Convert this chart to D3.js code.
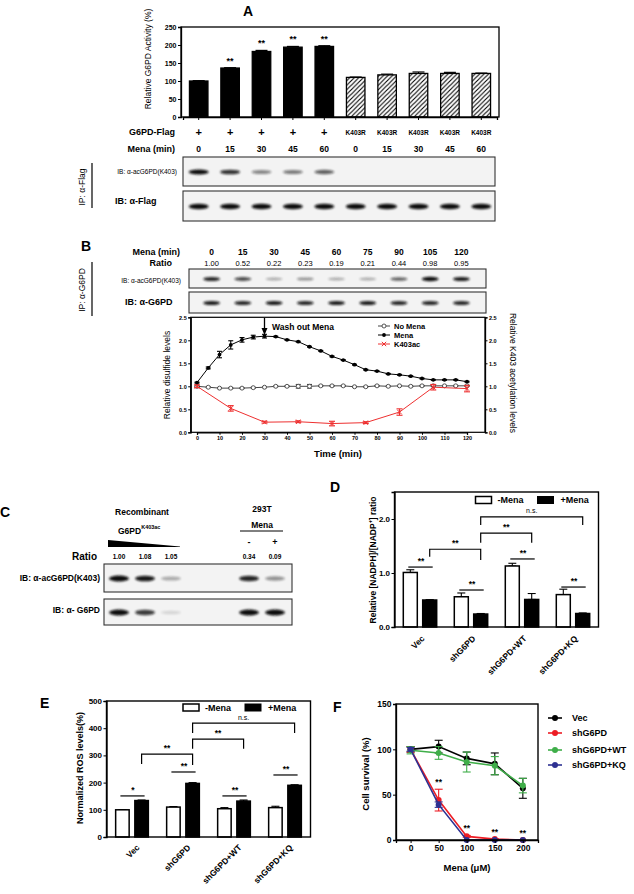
<!DOCTYPE html>
<html><head><meta charset="utf-8">
<script src="https://cdn.jsdelivr.net/npm/d3@7"></script>
<style>body{margin:0;background:#fff}svg{display:block}text{font-family:"Liberation Sans",Arial,sans-serif}</style>
</head><body><svg id="c" width="634" height="894"></svg>
<script>
// ---------- DATA ----------
// Panel A
const aFlag = ["+","+","+","+","+","K403R","K403R","K403R","K403R","K403R"];
const aMena = ["0","15","30","45","60","0","15","30","45","60"];
const aActivity = [100,136,182,194,196,110,117,121,121,121];
const aActivityErr = [1,1,3,2,2,1,2,4,3,1];
const aSig = ["","**","**","**","**","","","","",""];
const aYTicks = [0,50,100,150,200,250];
const aAcBand = [1.0,0.8,0.45,0.5,0.6,0,0,0,0,0];
const aFlagBand = [1,1,1,1,1,1,1,1,1,1];
// Panel B
const bMena = ["0","15","30","45","60","75","90","105","120"];
const bRatio = ["1.00","0.52","0.22","0.23","0.19","0.21","0.44","0.98","0.95"];
const bAcBand = [0.85,0.7,0.3,0.4,0.3,0.3,0.6,1.0,0.9];
const bG6pdBand = [0.9,0.85,0.9,0.85,0.9,0.9,0.85,0.85,0.85];
const bTime = [0,5,10,15,20,25,30,35,40,45,50,55,60,65,70,75,80,85,90,95,100,105,110,115,120];
const bMenaLvl = [1.08,1.40,1.69,1.90,2.01,2.07,2.09,2.08,2.01,1.97,1.86,1.77,1.65,1.57,1.47,1.36,1.33,1.27,1.25,1.22,1.17,1.14,1.14,1.14,1.10];
const bMenaErr = [0.01,0.02,0.07,0.09,0.05,0.04,0.04,0.01,0.01,0.01,0.01,0.01,0.01,0.01,0.01,0.01,0.01,0.01,0.01,0.01,0.01,0.01,0.01,0.01,0.01];
const bNoMena = [1.00,0.98,0.96,0.96,0.96,0.97,0.98,1.00,1.00,1.00,1.00,1.01,1.01,1.01,0.99,0.99,1.01,1.00,1.01,1.00,1.01,1.01,1.01,1.01,1.01];
const bNoMenaErr = [0.01,0.01,0.01,0.01,0.01,0.01,0.01,0.01,0.01,0.04,0.04,0.01,0.01,0.01,0.01,0.01,0.01,0.01,0.01,0.01,0.01,0.01,0.01,0.01,0.01];
const bAcTime = [0,15,30,45,60,75,90,105,120];
const bAcLvl = [1.00,0.52,0.22,0.23,0.19,0.21,0.44,0.98,0.95];
const bAcErr = [0.03,0.06,0.02,0.02,0.05,0.02,0.07,0.06,0.07];
const bXTicks = [0,10,20,30,40,50,60,70,80,90,100,110,120];
const bYTicks = [0,0.5,1,1.5,2,2.5];
const bLegend = ["No Mena","Mena","K403ac"];
// Panel C
const cRatio = ["1.00","1.08","1.05","","","0.34","0.09"];
const cMena = ["","","","","","-","+"];
const cAcBand = [1.0,0.9,0.3,0,0,0.85,0.4];
const cG6pdBand = [0.95,0.75,0.12,0,0,0.95,0.95];
// Panel D
const groups = ["Vec","shG6PD","shG6PD+WT","shG6PD+KQ"];
const dMinus = [1.01,0.56,1.13,0.60];
const dMinusErr = [0.05,0.07,0.05,0.10];
const dPlus = [0.50,0.24,0.51,0.25];
const dPlusErr = [0.005,0.01,0.11,0.01];
const dYTicks = [0,1,2];
const dPairLvl = [1.11,0.685,1.26,0.74];
const dBrackets = [
  {from:0,to:1,top:1.44,dropL:1.30,dropR:1.24,label:"**"},
  {from:1,to:2,top:1.74,dropL:1.56,dropR:1.56,label:"**"},
  {from:1,to:3,top:2.04,dropL:1.89,dropR:1.89,label:"n.s."}];
// Panel E
const eMinus = [100,110,104,108];
const eMinusErr = [1,2,4,5];
const ePlus = [134,197,132,190];
const ePlusErr = [2,3,4,2];
const eYTicks = [0,100,200,300,400,500];
const ePairLvl = [151,239,151,228];
const ePairSig = ["*","**","**","**"];
const eBrackets = [
  {from:0,to:1,top:305,dropL:268,dropR:265,label:"**"},
  {from:1,to:2,top:360,dropL:324,dropR:324,label:"**"},
  {from:1,to:3,top:419,dropL:382,dropR:382,label:"n.s."}];
// Panel F
const fDose = [0,50,100,150,200];
const fSeries = ["Vec","shG6PD","shG6PD+WT","shG6PD+KQ"];
const fVec = [100,103,90,84,57], fVecErr = [3,7,7,12,11];
const fSh = [100,44,4,1,0], fShErr = [3,12,1,0.5,0];
const fWT = [99,96,86,82,60], fWTErr = [4,7,11,10,8];
const fKQ = [100,39,0,0,0], fKQErr = [2,3,0,0,0];
const fColors = ["#000000","#ed1c24","#3fae49","#2e3192"];
const fSig = ["","**","**","**","**"];
const fXTicks = [0,50,100,150,200];
const fYTicks = [0,50,100,150];

// ---------- HELPERS ----------
const svg = d3.select("#c");
const FONT = '"Liberation Sans", Arial, sans-serif';
const defs = svg.append("defs");
defs.append("filter").attr("id","blur").attr("x","-50%").attr("y","-100%").attr("width","200%").attr("height","300%")
  .append("feGaussianBlur").attr("stdDeviation",0.9);
const pat = defs.append("pattern").attr("id","hatch").attr("patternUnits","userSpaceOnUse").attr("width",4.5).attr("height",4.5);
pat.append("rect").attr("width",4.5).attr("height",4.5).attr("fill","#fff");
pat.append("path").attr("d","M-1,1 l2,-2 M0,4.5 l4.5,-4.5 M3.5,5.5 l2,-2").attr("stroke","#000").attr("stroke-width",1.1);

function txt(x, y, s, o = {}) {
  const t = svg.append("text").attr("x", x).attr("y", y).text(s)
    .attr("font-size", o.size || 8).attr("font-weight", o.bold === false ? "normal" : "bold")
    .attr("text-anchor", o.anchor || "start").attr("dominant-baseline", "central")
    .attr("fill", o.fill || "#000");
  if (o.rotate) t.attr("transform", `rotate(${o.rotate},${x},${y})`);
  return t;
}
function styleAxis(g, size) {
  g.attr("font-size", size).attr("font-family", FONT).attr("font-weight", "bold");
  g.selectAll("text").attr("fill", "#000");
  g.selectAll("line").attr("stroke", "#000").attr("stroke-width", 1);
  g.select(".domain").attr("stroke", "#000").attr("stroke-width", 1.3);
}
function frame(x0, y0, x1, y1, w) {
  svg.append("rect").attr("x", x0).attr("y", y0).attr("width", x1 - x0).attr("height", y1 - y0)
    .attr("fill", "none").attr("stroke", "#000").attr("stroke-width", w || 1.3);
}
function blot(x0, x1, y0, y1, xs, ints, rx, ry) {
  svg.append("rect").attr("x", x0).attr("y", y0).attr("width", x1 - x0).attr("height", y1 - y0)
    .attr("fill", "#f3f3f3").attr("stroke", "#333").attr("stroke-width", 1.1);
  svg.append("g").selectAll("ellipse").data(ints).join("ellipse")
    .attr("cx", (d, i) => xs(i) + xs.bandwidth() / 2).attr("cy", (y0 + y1) / 2 + 0.5)
    .attr("rx", rx).attr("ry", d => ry * (0.55 + 0.45 * d))
    .attr("fill", "#111").attr("opacity", d => Math.min(1, d * 1.05)).attr("filter", "url(#blur)");
}
function errBar(g, cx, y, yErr, half, color) {
  g.append("line").attr("x1", cx).attr("x2", cx).attr("y1", y(yErr[0])).attr("y2", y(yErr[1])).attr("stroke", color).attr("stroke-width", 1.1);
  g.append("line").attr("x1", cx - half).attr("x2", cx + half).attr("y1", y(yErr[1])).attr("y2", y(yErr[1])).attr("stroke", color).attr("stroke-width", 1.1);
  g.append("line").attr("x1", cx - half).attr("x2", cx + half).attr("y1", y(yErr[0])).attr("y2", y(yErr[0])).attr("stroke", color).attr("stroke-width", 1.1);
}

// ---------- PANEL LETTERS ----------
txt(243, 11, "A", {size: 14});
txt(81, 246, "B", {size: 14});
txt(0, 512, "C", {size: 14});
txt(330, 487, "D", {size: 14});
txt(40, 703, "E", {size: 14});
txt(333, 707, "F", {size: 14});

// ---------- PANEL A ----------
{
  const x = d3.scaleBand().domain(d3.range(10)).range([183, 497]);
  const y = d3.scaleLinear().domain([0, 250]).range([117, 27]);
  const g = svg.append("g");
  const bw = 18.5;
  g.selectAll("rect.bar").data(aActivity).join("rect").attr("class", "bar")
    .attr("x", (d, i) => x(i) + x.bandwidth() / 2 - bw / 2).attr("width", bw)
    .attr("y", d => y(d)).attr("height", d => y(0) - y(d))
    .attr("fill", (d, i) => i < 5 ? "#000" : "url(#hatch)").attr("stroke", "#000").attr("stroke-width", 1.3);
  aActivity.forEach((d, i) => {
    const cx = x(i) + x.bandwidth() / 2;
    g.append("line").attr("x1", cx).attr("x2", cx).attr("y1", y(d)).attr("y2", y(d + aActivityErr[i])).attr("stroke", "#000");
    g.append("line").attr("x1", cx - 6).attr("x2", cx + 6).attr("y1", y(d + aActivityErr[i])).attr("y2", y(d + aActivityErr[i])).attr("stroke", "#000").attr("stroke-width", 1.2);
    if (aSig[i]) txt(cx, y(d + aActivityErr[i]) - 7, aSig[i], {size: 9, anchor: "middle"});
    txt(cx, 132, aFlag[i], aFlag[i] === "+" ? {size: 11, anchor: "middle"} : {size: 6.5, anchor: "middle"});
    txt(cx, 149, aMena[i], {size: 8.5, anchor: "middle"});
  });
  const ya = g.append("g").attr("transform", "translate(181,0)").call(d3.axisLeft(y).tickValues(aYTicks).tickSize(3).tickPadding(1.5));
  styleAxis(ya, 7);
  const xa = g.append("g").attr("transform", "translate(0,117)").call(d3.axisBottom(x).tickSize(3).tickFormat(""));
  styleAxis(xa, 7);
  xa.selectAll(".tick").attr("transform", (d) => `translate(${x(d) + x.bandwidth() / 2},0)`);
  frame(181, 27, 499, 117);
  txt(148, 59, "Relative G6PD Activity (%)", {size: 8.5, bold: false, anchor: "middle", rotate: -90});
  txt(175, 132, "G6PD-Flag", {size: 9, anchor: "end"});
  txt(175, 149, "Mena (min)", {size: 9, anchor: "end"});
  blot(183, 495, 157, 186, x, aAcBand, 10, 2.6);
  blot(183, 495, 191, 221, x, aFlagBand, 10, 2.8);
  txt(177, 171, "IB: α-acG6PD(K403)", {size: 6.5, bold: false, anchor: "end"});
  txt(115, 201, "IB: α-Flag", {size: 9});
  txt(82, 187, "IP: α-Flag", {size: 8.5, bold: false, anchor: "middle", rotate: -90});
  svg.append("line").attr("x1", 92).attr("x2", 92).attr("y1", 163).attr("y2", 208).attr("stroke", "#000").attr("stroke-width", 1.2);
}

// ---------- PANEL B ----------
{
  const lanes = d3.scaleBand().domain(d3.range(9)).range([196, 477]);
  bMena.forEach((m, i) => {
    const cx = lanes(i) + lanes.bandwidth() / 2;
    txt(cx, 252, m, {size: 8.5, anchor: "middle"});
    txt(cx, 263, bRatio[i], {size: 7.5, bold: false, anchor: "middle"});
  });
  txt(180, 252, "Mena (min)", {size: 9, anchor: "end"});
  txt(172, 263, "Ratio", {size: 9, anchor: "end"});
  blot(189, 486, 269, 288, lanes, bAcBand, 8.5, 2.2);
  blot(189, 486, 292, 313, lanes, bG6pdBand, 8.5, 2.2);
  txt(181, 280, "IB: α-acG6PD(K403)", {size: 6.5, bold: false, anchor: "end"});
  txt(125, 302, "IB: α-G6PD", {size: 9});
  txt(82, 290, "IP: α-G6PD", {size: 8.5, bold: false, anchor: "middle", rotate: -90});
  svg.append("line").attr("x1", 92).attr("x2", 92).attr("y1", 262).attr("y2", 316).attr("stroke", "#000").attr("stroke-width", 1.2);

  const x = d3.scaleLinear().domain([0, 120]).range([197, 467]);
  const y = d3.scaleLinear().domain([0, 2.5]).range([432.3, 317.3]);
  const g = svg.append("g");
  const line = d3.line().x(d => x(d[0])).y(d => y(d[1]));
  // No Mena
  const nm = bTime.map((t, i) => [t, bNoMena[i]]);
  g.append("path").attr("d", line(nm)).attr("fill", "none").attr("stroke", "#444").attr("stroke-width", 1);
  nm.forEach((d, i) => errBar(g, x(d[0]), y, [d[1] - bNoMenaErr[i], d[1] + bNoMenaErr[i]], 2.5, "#444"));
  g.selectAll("circle.nm").data(nm).join("circle").attr("class", "nm").attr("cx", d => x(d[0])).attr("cy", d => y(d[1])).attr("r", 2)
    .attr("fill", "#fff").attr("stroke", "#444").attr("stroke-width", 0.9);
  // Mena
  const me = bTime.map((t, i) => [t, bMenaLvl[i]]);
  g.append("path").attr("d", line(me)).attr("fill", "none").attr("stroke", "#000").attr("stroke-width", 1);
  me.forEach((d, i) => errBar(g, x(d[0]), y, [d[1] - bMenaErr[i], d[1] + bMenaErr[i]], 2.5, "#000"));
  g.selectAll("circle.me").data(me).join("circle").attr("class", "me").attr("cx", d => x(d[0])).attr("cy", d => y(d[1])).attr("r", 1.9).attr("fill", "#000");
  // K403ac
  const red = "#ee3030";
  const ac = bAcTime.map((t, i) => [t, bAcLvl[i]]);
  g.append("path").attr("d", line(ac)).attr("fill", "none").attr("stroke", red).attr("stroke-width", 1);
  ac.forEach((d, i) => errBar(g, x(d[0]), y, [d[1] - bAcErr[i], d[1] + bAcErr[i]], 3, red));
  const cross = d3.symbol().type(d3.symbolX).size(14);
  g.selectAll("path.ac").data(ac).join("path").attr("class", "ac").attr("d", cross)
    .attr("transform", d => `translate(${x(d[0])},${y(d[1])})`).attr("fill", "none").attr("stroke", red).attr("stroke-width", 1);
  // axes
  const yl = g.append("g").attr("transform", "translate(190.7,0)").call(d3.axisLeft(y).tickValues(bYTicks).tickFormat(d3.format(".1f")).tickSize(2.5).tickPadding(1.5));
  styleAxis(yl, 5.5);
  const yr = g.append("g").attr("transform", "translate(485,0)").call(d3.axisRight(y).tickValues(bYTicks).tickFormat(d3.format(".1f")).tickSize(2.5).tickPadding(1.5));
  styleAxis(yr, 5.5);
  const xb = g.append("g").attr("transform", "translate(0,432.3)").call(d3.axisBottom(x).tickValues(bXTicks).tickSize(2.5).tickPadding(1.5));
  styleAxis(xb, 5.5);
  frame(190.7, 317.3, 485, 432.3, 1.2);
  txt(167, 375, "Relative disulfide levels", {size: 8.5, bold: false, anchor: "middle", rotate: -90});
  txt(513, 373, "Relative K403 acetylation levels", {size: 8.5, bold: false, anchor: "middle", rotate: 90});
  txt(338, 453, "Time (min)", {size: 9.5, anchor: "middle"});
  // arrow
  const ax = x(30);
  g.append("line").attr("x1", ax).attr("x2", ax).attr("y1", 318).attr("y2", 330).attr("stroke", "#000").attr("stroke-width", 1.3);
  g.append("path").attr("d", `M${ax - 3},${328} L${ax + 3},${328} L${ax},${335} Z`).attr("fill", "#000");
  txt(272, 327, "Wash out Mena", {size: 8.5});
  // legend
  const ly = [326, 335, 344];
  bLegend.forEach((s, i) => {
    const c = i === 2 ? red : (i === 0 ? "#444" : "#000");
    g.append("line").attr("x1", 378).attr("x2", 390).attr("y1", ly[i]).attr("y2", ly[i]).attr("stroke", c).attr("stroke-width", 1);
    if (i === 0) g.append("circle").attr("cx", 384).attr("cy", ly[i]).attr("r", 2).attr("fill", "#fff").attr("stroke", c).attr("stroke-width", 0.9);
    if (i === 1) g.append("circle").attr("cx", 384).attr("cy", ly[i]).attr("r", 1.9).attr("fill", c);
    if (i === 2) g.append("path").attr("d", cross).attr("transform", `translate(384,${ly[i]})`).attr("fill", "none").attr("stroke", c);
    txt(394, ly[i], s, {size: 7.5});
  });
}

// ---------- PANEL C ----------
{
  const lanes = d3.scaleBand().domain(d3.range(7)).range([106, 288]);
  const cx = i => lanes(i) + lanes.bandwidth() / 2;
  txt(142, 512, "Recombinant", {size: 8.5, anchor: "middle"});
  const gt = txt(118, 531, "G6PD", {size: 8.5});
  gt.append("tspan").text("K403ac").attr("font-size", 5.5).attr("dy", -4);
  txt(262, 509, "293T", {size: 8.5, anchor: "middle"});
  txt(262, 525, "Mena", {size: 8.5, anchor: "middle"});
  svg.append("line").attr("x1", 240).attr("x2", 283).attr("y1", 531).attr("y2", 531).attr("stroke", "#000").attr("stroke-width", 1);
  svg.append("path").attr("d", `M${lanes(0) + 2},540 L${lanes(2) + lanes.bandwidth() - 4},546.5 L${lanes(2) + lanes.bandwidth() - 4},547 L${lanes(0) + 2},547 Z`).attr("fill", "#000");
  cRatio.forEach((r, i) => {
    if (r) txt(cx(i), 556, r, {size: 6.5, anchor: "middle"});
    if (cMena[i]) txt(cx(i), 542, cMena[i], {size: 9, anchor: "middle"});
  });
  txt(97, 556, "Ratio", {size: 10, anchor: "end"});
  blot(104, 292, 564, 592, lanes, cAcBand, 10, 3);
  blot(104, 292, 599, 625, lanes, cG6pdBand, 10, 3);
  txt(100, 578, "IB: α-acG6PD(K403)", {size: 8.5, anchor: "end"});
  txt(100, 610, "IB: α- G6PD", {size: 8.5, anchor: "end"});
}

// ---------- BAR PANELS D / E ----------
function groupedBars(cfg) {
  const x = d3.scaleBand().domain(groups).range(cfg.xr);
  const y = d3.scaleLinear().domain(cfg.yd).range(cfg.yr);
  const g = svg.append("g");
  const gc = i => x(groups[i]) + x.bandwidth() / 2;
  const bw = cfg.bw, off = cfg.off;
  const bars = [];
  groups.forEach((k, i) => {
    bars.push({cx: gc(i) - off, v: cfg.minus[i], e: cfg.minusErr[i], fill: "#fff"});
    bars.push({cx: gc(i) + off, v: cfg.plus[i], e: cfg.plusErr[i], fill: "#000"});
  });
  bars.forEach(b => errBar(g, b.cx, y, [b.v, b.v + b.e], 4, "#000"));
  g.selectAll("rect.b").data(bars).join("rect").attr("class", "b")
    .attr("x", d => d.cx - bw / 2).attr("width", bw).attr("y", d => y(d.v)).attr("height", d => y(0) - y(d.v))
    .attr("fill", d => d.fill).attr("stroke", "#000").attr("stroke-width", 1.5);
  // pair significance
  cfg.pairLvl.forEach((lv, i) => {
    const yy = y(lv);
    g.append("line").attr("x1", gc(i) - off - 2).attr("x2", gc(i) + off + 3).attr("y1", yy).attr("y2", yy).attr("stroke", "#000").attr("stroke-width", 1.2);
    txt(gc(i) + 1, yy - 6, cfg.pairSig[i], {size: 8.5, anchor: "middle"});
  });
  cfg.brackets.forEach(b => {
    const x1 = gc(b.from) + off, x2 = gc(b.to) + off;
    g.append("path").attr("d", `M${x1},${y(b.dropL)} V${y(b.top)} H${x2} V${y(b.dropR)}`).attr("fill", "none").attr("stroke", "#000").attr("stroke-width", 1.2);
    txt((x1 + x2) / 2, y(b.top) - 6, b.label, b.label === "n.s." ? {size: 7, bold: false, anchor: "middle"} : {size: 8.5, anchor: "middle"});
  });
  const ya = g.append("g").attr("transform", `translate(${cfg.xr[0]},0)`).call(d3.axisLeft(y).tickValues(cfg.yTicks).tickSize(3).tickPadding(1.5));
  styleAxis(ya, 8);
  frame(cfg.xr[0], cfg.yr[1], cfg.xr[1], cfg.yr[0], 1.4);
  groups.forEach((k, i) => txt(gc(i) + cfg.labOff, cfg.labY, k, {size: 8.5, anchor: "end", rotate: -45}));
  // legend
  const L = cfg.leg;
  g.append("rect").attr("x", L.x).attr("y", L.y - 3.5).attr("width", 16).attr("height", 7).attr("fill", "#fff").attr("stroke", "#000").attr("stroke-width", 1.5);
  txt(L.x + 22, L.y, "-Mena", {size: 9});
  g.append("rect").attr("x", L.x + 62).attr("y", L.y - 3.5).attr("width", 16).attr("height", 7).attr("fill", "#000").attr("stroke", "#000");
  txt(L.x + 85, L.y, "+Mena", {size: 9});
}
groupedBars({xr: [394.5, 598.5], yd: [0, 2.5], yr: [627, 492], bw: 14, off: 9.7,
  minus: dMinus, minusErr: dMinusErr, plus: dPlus, plusErr: dPlusErr, yTicks: dYTicks,
  pairLvl: dPairLvl, pairSig: ["**","**","**","**"], brackets: dBrackets,
  labOff: 3, labY: 637, leg: {x: 475.5, y: 500}});
{
  const t = txt(373, 560, "Relative [NADPH]/[NADP", {size: 8.5, anchor: "middle", rotate: -90});
  t.append("tspan").text("+").attr("font-size", 5.5).attr("dy", -3.5);
  t.append("tspan").text("] ratio").attr("dy", 3.5);
}
groupedBars({xr: [106.5, 310.5], yd: [0, 500], yr: [837, 701], bw: 13.5, off: 9.6,
  minus: eMinus, minusErr: eMinusErr, plus: ePlus, plusErr: ePlusErr, yTicks: eYTicks,
  pairLvl: ePairLvl, pairSig: ePairSig, brackets: eBrackets,
  labOff: 6, labY: 846, leg: {x: 183, y: 707.5}});
txt(80, 768, "Normalized ROS levels(%)", {size: 9, anchor: "middle", rotate: -90});

// ---------- PANEL F ----------
{
  const x = d3.scaleLinear().domain([-26, 227]).range([396, 538]);
  const y = d3.scaleLinear().domain([0, 150]).range([840, 704]);
  const g = svg.append("g");
  const vals = [fVec, fSh, fWT, fKQ], errs = [fVecErr, fShErr, fWTErr, fKQErr];
  const line = d3.line().x(d => x(d[0])).y(d => y(d[1]));
  vals.forEach((v, s) => {
    const pts = fDose.map((d, i) => [d, v[i]]);
    pts.forEach((p, i) => { if (errs[s][i] > 0) errBar(g, x(p[0]), y, [p[1] - errs[s][i], p[1] + errs[s][i]], 4, fColors[s]); });
    g.append("path").attr("d", line(pts)).attr("fill", "none").attr("stroke", fColors[s]).attr("stroke-width", 1.6);
    g.selectAll(null).data(pts).join("circle").attr("cx", p => x(p[0])).attr("cy", p => y(p[1])).attr("r", 3).attr("fill", fColors[s]);
  });
  fDose.forEach((d, i) => {
    if (!fSig[i]) return;
    const top = Math.max(fSh[i] + fShErr[i], fKQ[i] + fKQErr[i]);
    txt(x(d), y(top) - 7, fSig[i], {size: 8.5, anchor: "middle"});
  });
  const xa = g.append("g").attr("transform", "translate(0,840)").call(d3.axisBottom(x).tickValues(fXTicks).tickSize(3).tickPadding(2));
  styleAxis(xa, 8.5);
  const ya = g.append("g").attr("transform", "translate(396,0)").call(d3.axisLeft(y).tickValues(fYTicks).tickSize(3).tickPadding(1.5));
  styleAxis(ya, 8.5);
  frame(396, 704, 538, 840, 1.4);
  txt(365, 774, "Cell survival (%)", {size: 9.5, anchor: "middle", rotate: -90});
  txt(467, 867, "Mena (μM)", {size: 9.5, anchor: "middle"});
  const ly = [718, 733, 750, 765];
  fSeries.forEach((s, i) => {
    g.append("line").attr("x1", 548).attr("x2", 562).attr("y1", ly[i]).attr("y2", ly[i]).attr("stroke", fColors[i]).attr("stroke-width", 1.6);
    g.append("circle").attr("cx", 555).attr("cy", ly[i]).attr("r", 3).attr("fill", fColors[i]);
    txt(572, ly[i], s, {size: 9});
  });
}
</script></body></html>
